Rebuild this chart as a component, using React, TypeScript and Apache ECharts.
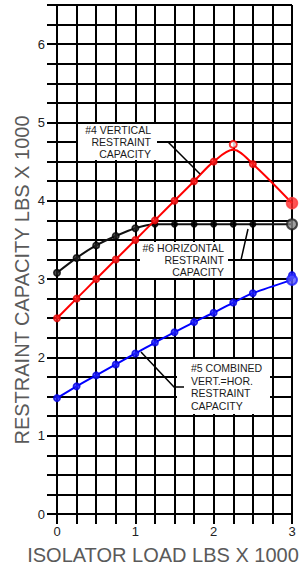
import React, { useEffect, useRef } from "react";
import * as echarts from "echarts";

// ---- data (x = isolator load, lbs x 1000; y = restraint capacity, lbs x 1000)
const xLabels = [0, 1, 2, 3];
const yLabels = [0, 1, 2, 3, 4, 5, 6];

// #4 vertical restraint capacity (red)
const verticalCurve: [number, number][] = [
  [0, 2.5], [0.25, 2.75], [0.5, 3.0], [0.75, 3.25], [1, 3.5], [1.25, 3.75],
  [1.5, 4.0], [1.75, 4.25], [2, 4.5], [2.25, 4.65], [2.5, 4.47], [3, 3.97],
];
const verticalPoints: [number, number][] = [
  [0, 2.5], [0.25, 2.75], [0.5, 3.0], [0.75, 3.25], [1, 3.5], [1.25, 3.75],
  [1.5, 4.0], [1.75, 4.25], [2, 4.5], [2.5, 4.47],
];
const verticalPeak: [number, number][] = [[2.25, 4.72]];
const verticalEnd: [number, number][] = [[3, 3.97]];

// #6 horizontal restraint capacity (black)
const horizontalCurve: [number, number][] = [
  [0, 3.08], [0.25, 3.27], [0.5, 3.43], [0.75, 3.55], [1, 3.65], [1.25, 3.7],
  [1.5, 3.7], [1.75, 3.7], [2, 3.7], [2.25, 3.7], [2.5, 3.7], [3, 3.7],
];
const horizontalRising: [number, number][] = [
  [0, 3.08], [0.25, 3.27], [0.5, 3.43], [0.75, 3.55], [1, 3.65],
];
const horizontalFlat: [number, number][] = [
  [1.25, 3.7], [1.5, 3.7], [1.75, 3.7], [2, 3.7], [2.25, 3.7], [2.5, 3.7],
];
const horizontalEnd: [number, number][] = [[3, 3.7]];

// #5 combined vert.=hor. restraint capacity (blue)
const combinedCurve: [number, number][] = [
  [0, 1.48], [0.25, 1.63], [0.5, 1.77], [0.75, 1.91], [1, 2.05], [1.25, 2.19],
  [1.5, 2.32], [1.75, 2.45], [2, 2.57], [2.25, 2.7], [2.5, 2.82], [3, 2.99],
];
const combinedPoints: [number, number][] = [
  [0, 1.48], [0.25, 1.63], [0.5, 1.77], [0.75, 1.91], [1, 2.05], [1.25, 2.19],
  [1.5, 2.32], [1.75, 2.45], [2, 2.57], [2.25, 2.7], [2.5, 2.82], [3, 3.05],
];
const combinedEnd: [number, number][] = [[3, 2.99]];

const FONT = "'Liberation Sans', Arial, Helvetica, sans-serif";

export default function App() {
  const ref = useRef<HTMLDivElement>(null);

  useEffect(() => {
    if (!ref.current) return;
    const chart = echarts.init(ref.current, undefined, { renderer: "svg" });

    const gridLine = { show: true, lineStyle: { color: "#000", width: 2 } };

    const dot = (color: string, border: string, size: number) => ({
      symbol: "circle",
      symbolSize: size,
      itemStyle: { color, borderColor: border, borderWidth: 1.5 },
    });

    chart.setOption({
      animation: false,
      backgroundColor: "#fff",
      grid: { left: 57, right: 8, top: 5, bottom: 55, containLabel: false },
      xAxis: {
        type: "value",
        min: 0,
        max: 3,
        interval: 0.25,
        axisLine: { show: true, lineStyle: { color: "#000", width: 2 } },
        axisTick: { show: true, inside: false, length: 10, lineStyle: { color: "#000", width: 2 } },
        axisLabel: {
          formatter: (v: number) => (xLabels.includes(v) ? String(v) : ""),
          color: "#222",
          fontSize: 13,
          fontFamily: FONT,
          margin: 11,
        },
        splitLine: gridLine,
      },
      yAxis: {
        type: "value",
        min: 0,
        max: 6.5,
        interval: 0.25,
        axisLine: { show: true, lineStyle: { color: "#000", width: 2 } },
        axisTick: { show: true, inside: false, length: 10, lineStyle: { color: "#000", width: 2 } },
        axisLabel: {
          formatter: (v: number) => (yLabels.includes(v) ? String(v) : ""),
          color: "#222",
          fontSize: 13,
          fontFamily: FONT,
          margin: 12,
        },
        splitLine: gridLine,
      },
      series: [
        {
          type: "line",
          data: horizontalCurve,
          smooth: 0.25,
          showSymbol: false,
          lineStyle: { color: "#111", width: 2 },
          z: 3,
        },
        { type: "scatter", data: horizontalRising, ...dot("#222", "#000", 6.5), z: 4 },
        { type: "scatter", data: horizontalFlat, ...dot("#000", "#000", 5.5), z: 4 },
        {
          type: "scatter",
          data: horizontalEnd,
          symbol: "circle",
          symbolSize: 10,
          itemStyle: { color: "#888", borderColor: "#222", borderWidth: 2 },
          z: 4,
        },
        {
          type: "line",
          data: verticalCurve,
          smooth: 0.35,
          showSymbol: false,
          lineStyle: { color: "#ff0000", width: 2 },
          z: 5,
        },
        { type: "scatter", data: verticalPoints, ...dot("#ff2020", "#e00000", 6.5), z: 6 },
        {
          type: "scatter",
          data: verticalPeak,
          symbol: "circle",
          symbolSize: 7,
          itemStyle: { color: "#fff", borderColor: "#ff0000", borderWidth: 2 },
          z: 6,
        },
        { type: "scatter", data: verticalEnd, ...dot("#ff2a2a", "#ff4040", 11), z: 6 },
        {
          type: "line",
          data: combinedCurve,
          smooth: 0.25,
          showSymbol: false,
          lineStyle: { color: "#0000ff", width: 2 },
          z: 5,
        },
        { type: "scatter", data: combinedPoints, ...dot("#2020ff", "#0000e0", 6.5), z: 6 },
        {
          type: "scatter",
          data: combinedEnd,
          symbol: "circle",
          symbolSize: 10,
          itemStyle: { color: "#5a5aff", borderColor: "#2020ff", borderWidth: 2 },
          z: 6,
        },
      ],
      graphic: [
        // axis titles
        {
          type: "text",
          x: 163,
          y: 555,
          style: {
            text: "ISOLATOR LOAD LBS X 1000",
            fontSize: 20,
            fontFamily: FONT,
            fill: "#5a5a5a",
            align: "center",
            verticalAlign: "middle",
          },
        },
        {
          type: "text",
          x: 21.5,
          y: 280,
          rotation: Math.PI / 2,
          style: {
            text: "RESTRAINT CAPACITY LBS X 1000",
            fontSize: 20,
            fontFamily: FONT,
            fill: "#5a5a5a",
            align: "center",
            verticalAlign: "middle",
          },
        },
        // #4 vertical annotation
        { type: "rect", shape: { x: 78, y: 124, width: 79, height: 36 }, style: { fill: "#fff" }, z: 50 },
        {
          type: "text",
          x: 151,
          y: 124,
          z: 51,
          style: {
            text: "#4 VERTICAL\nRESTRAINT\nCAPACITY",
            fontSize: 10.5,
            lineHeight: 12,
            fontFamily: FONT,
            fill: "#1a1a1a",
            align: "right",
            verticalAlign: "top",
          },
        },
        {
          type: "polyline",
          z: 51,
          shape: { points: [[158, 142], [168, 142], [200, 174]] },
          style: { stroke: "#000", lineWidth: 1.5, fill: null },
        },
        // #6 horizontal annotation
        { type: "rect", shape: { x: 140, y: 242, width: 88, height: 36 }, style: { fill: "#fff" }, z: 50 },
        {
          type: "text",
          x: 224,
          y: 242,
          z: 51,
          style: {
            text: "#6 HORIZONTAL\nRESTRAINT\nCAPACITY",
            fontSize: 10.5,
            lineHeight: 12,
            fontFamily: FONT,
            fill: "#1a1a1a",
            align: "right",
            verticalAlign: "top",
          },
        },
        {
          type: "polyline",
          z: 51,
          shape: { points: [[230, 260], [241, 260], [248, 229]] },
          style: { stroke: "#000", lineWidth: 1.5, fill: null },
        },
        // #5 combined annotation
        { type: "rect", shape: { x: 177, y: 359, width: 93, height: 55 }, style: { fill: "#fff" }, z: 50 },
        {
          type: "text",
          x: 191,
          y: 362,
          z: 51,
          style: {
            text: "#5 COMBINED\nVERT.=HOR.\nRESTRAINT\nCAPACITY",
            fontSize: 10.5,
            lineHeight: 12.5,
            fontFamily: FONT,
            fill: "#1a1a1a",
            align: "left",
            verticalAlign: "top",
          },
        },
        {
          type: "polyline",
          z: 51,
          shape: { points: [[184, 387], [174, 387], [141, 352]] },
          style: { stroke: "#000", lineWidth: 1.5, fill: null },
        },
      ],
    });

    return () => chart.dispose();
  }, []);

  return (
    <div
      ref={ref}
      style={{ position: "fixed", left: 0, top: 0, width: 300, height: 569, background: "#fff" }}
    />
  );
}
